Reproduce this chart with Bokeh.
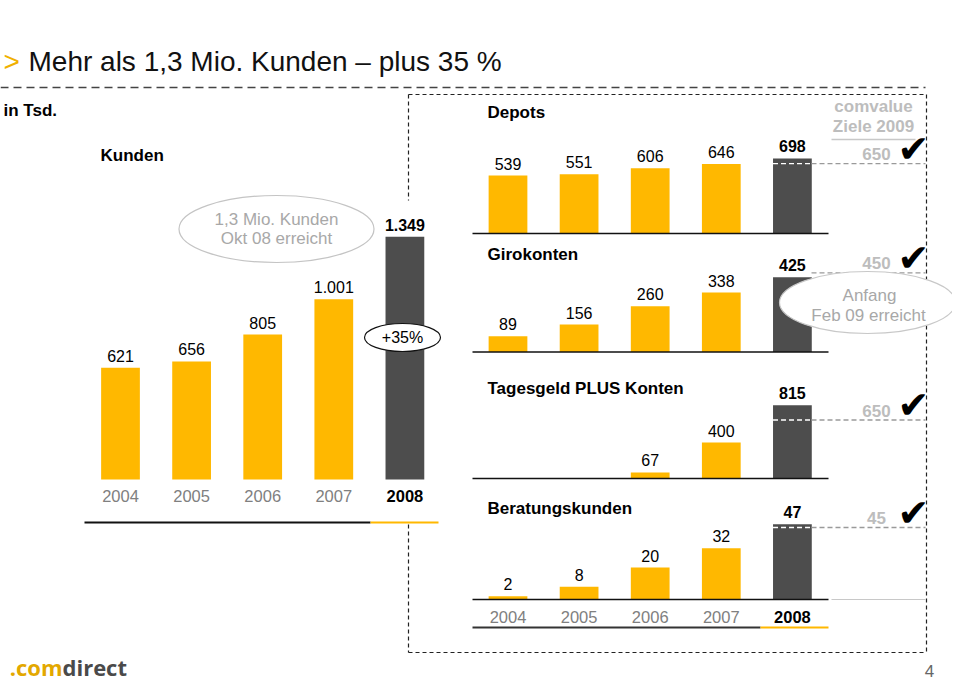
from bokeh.plotting import figure
from bokeh.models import Range1d
from bokeh.core.properties import value
from bokeh.embed import file_html
from bokeh.resources import INLINE

# ---------------- data ----------------
years = [2004, 2005, 2006, 2007, 2008]
year_labels = ["2004", "2005", "2006", "2007", "2008"]
kunden = [621, 656, 805, 1001, 1349]
depots = [539, 551, 606, 646, 698]
girokonten = [89, 156, 260, 338, 425]
tagesgeld_years = [2006, 2007, 2008]
tagesgeld = [67, 400, 815]
beratung = [2, 8, 20, 32, 47]
targets = {"depots": 650, "giro": 450, "tages": 650, "berat": 45}

# ---------------- layout / style ----------------
W, H = 952, 680
FONT = "Liberation Sans"
YELLOW = "#FFB800"
DARK = "#4D4D4D"
GRAY_T = "#BDBDBD"

p = figure(width=W, height=H, x_range=Range1d(0, W), y_range=Range1d(H, 0),
           output_backend="svg", toolbar_location=None, min_border=0,
           x_axis_type=None, y_axis_type=None)
p.outline_line_color = None
p.background_fill_color = "white"
p.border_fill_color = "white"

STEP = 71.1
def xr(c0):
    return Range1d(2004 + (0 - c0) / STEP, 2004 + (W - c0) / STEP)
p.extra_x_ranges = {"left": xr(120.0), "right": xr(507.5)}

PANELS = {"kunden": (479.0, 0.18), "depots": (233.0, 0.1075), "giro": (351.5, 0.176),
          "tages": (478.0, 0.09), "berat": (599.0, 1.6)}
p.extra_y_ranges = {k: Range1d((b - H) / s, b / s) for k, (b, s) in PANELS.items()}

BW = 0.545
LBL = 12  # label centre above bar top (px)

def txt(x, y, s, size=16, color="black", bold=False, align="left", font=FONT, **kw):
    p.text(x=x if isinstance(x, list) else [x], y=y if isinstance(y, list) else [y],
           text=s if isinstance(s, list) else [s],
           text_font=value(font), text_font_size=f"{size}px", text_color=color,
           text_font_style="bold" if bold else "normal", text_align=align,
           text_baseline="middle", **kw)

def fmt(v):
    return f"{v:,}".replace(",", ".")

# ---------------- title ----------------
txt(3, 61, ">", size=28, color="#F0B000")
txt(28, 60.5, "Mehr als 1,3 Mio. Kunden \u2013 plus 35 %", size=28, color="#111111")
p.line([0, 925], [87, 87], line_color="#444444", line_width=1.5, line_dash="8 5")

# dotted box
p.multi_line(xs=[[408, 926], [926, 926], [408, 926], [408, 408], [408, 408]],
             ys=[[94, 94], [94, 652], [652, 652], [94, 200], [524, 652]],
             line_color="#222222", line_width=1.2, line_dash="4 3")

txt(3, 110, "in Tsd.", bold=True, size=17)

# ---------------- Kunden panel ----------------
sk = PANELS["kunden"][1]
txt(100, 155, "Kunden", bold=True, size=17)
colors5 = [YELLOW] * 4 + [DARK]
p.vbar(x=years, top=kunden, bottom=0, width=BW, fill_color=colors5, line_color=None,
       x_range_name="left", y_range_name="kunden")
txt(years[:4], [v + LBL / sk for v in kunden[:4]], [fmt(v) for v in kunden[:4]], align="center",
    x_range_name="left", y_range_name="kunden")
txt(years[4:], [v + LBL / sk for v in kunden[4:]], [fmt(v) for v in kunden[4:]], align="center",
    bold=True, x_range_name="left", y_range_name="kunden")
txt(years[:4], [495.5] * 4, year_labels[:4], align="center", color="#808080", size=16.5,
    x_range_name="left")
txt(years[4:], [495.5], year_labels[4:], align="center", bold=True, size=16.5, x_range_name="left")
p.line([84, 370], [522, 522], line_color="#111111", line_width=2)
p.line([370, 438], [522, 522], line_color=YELLOW, line_width=2)

# ellipse annotation
p.ellipse(x=[276], y=[228.5], width=195, height=67, width_units="screen", height_units="screen",
          fill_color="white", line_color="#C4C4C4", line_width=1.2)
txt(276, 219, "1,3 Mio. Kunden", align="center", color="#A8A8A8", size=17)
txt(276, 238, "Okt 08 erreicht", align="center", color="#A8A8A8", size=17)
p.ellipse(x=[402], y=[337], width=76, height=28, width_units="screen", height_units="screen",
          fill_color="white", line_color="#111111", line_width=1.2)
txt(402, 337, "+35%", align="center")

# ---------------- right panels ----------------
def panel(name, title, title_y, xs, vals, target):
    s = PANELS[name][1]
    cols = [YELLOW] * (len(xs) - 1) + [DARK]
    p.vbar(x=xs, top=vals, bottom=0, width=BW, fill_color=cols, line_color=None,
           x_range_name="right", y_range_name=name)
    txt(xs[:-1], [v + LBL / s for v in vals[:-1]], [fmt(v) for v in vals[:-1]], align="center",
        x_range_name="right", y_range_name=name)
    txt(xs[-1:], [v + LBL / s for v in vals[-1:]], [fmt(v) for v in vals[-1:]], align="center",
        bold=True, x_range_name="right", y_range_name=name)
    # baseline
    p.line([472, 828], [0, 0], line_color="#111111", line_width=1.5, y_range_name=name)
    txt(487, title_y, title, bold=True, size=17)
    # target
    last = xs[-1]
    if target < vals[-1]:
        p.line([last - BW / 2, last + BW / 2], [target, target], line_color="white",
               line_width=1.3, line_dash="5 3", x_range_name="right", y_range_name=name)
    p.line([811, 925], [target, target], line_color="#9A9A9A", line_width=1.3,
           line_dash="5 3", y_range_name=name)
    txt(876, target + 9.5 / s, fmt(target), align="center", bold=True, color=GRAY_T, size=17,
        y_range_name=name)
    txt(913, target + 15 / s, "\u2714", size=38, align="center", font="DejaVu Sans",
        y_range_name=name)

panel("depots", "Depots", 111.5, years, depots, targets["depots"])
panel("giro", "Girokonten", 254, years, girokonten, targets["giro"])
panel("tages", "Tagesgeld PLUS Konten", 387.5, tagesgeld_years, tagesgeld, targets["tages"])
panel("berat", "Beratungskunden", 507.5, years, beratung, targets["berat"])

p.line([831, 925], [0, 0], line_color="#C8C8C8", line_width=1.2, y_range_name="berat")

# comvalue header
txt(873, 106, "comvalue", align="center", bold=True, color=GRAY_T, size=17)
txt(873, 126, "Ziele 2009", align="center", bold=True, color=GRAY_T, size=17)
p.line([831, 915], [139, 139], line_color="#C8C8C8", line_width=1.5)

# Anfang ellipse
p.ellipse(x=[867], y=[302], width=176, height=62, width_units="screen", height_units="screen",
          fill_color="white", line_color="#C8C8C8", line_width=1.2)
txt(869, 295, "Anfang", align="center", color="#A8A8A8", size=17)
txt(868, 315, "Feb 09 erreicht", align="center", color="#A8A8A8", size=17)

# right year axis
txt(years[:4], [616] * 4, year_labels[:4], align="center", color="#808080", size=16.5,
    x_range_name="right")
txt(years[4:], [616], year_labels[4:], align="center", bold=True, size=16.5,
    x_range_name="right")
p.line([472, 760], [627, 627], line_color="#333333", line_width=2)
p.line([760, 828], [627, 627], line_color=YELLOW, line_width=2)

# ---------------- footer ----------------
txt(62, 666, ".com", size=22, bold=True, color="#E3A800", align="right", font="Open Sans")
txt(62, 666, "direct", size=22, bold=True, color="#4A4A4A", align="left", font="Open Sans")
txt(929, 670, "4", size=17, color="#666666", align="center")

open("out.html", "w").write(file_html(p, INLINE))
